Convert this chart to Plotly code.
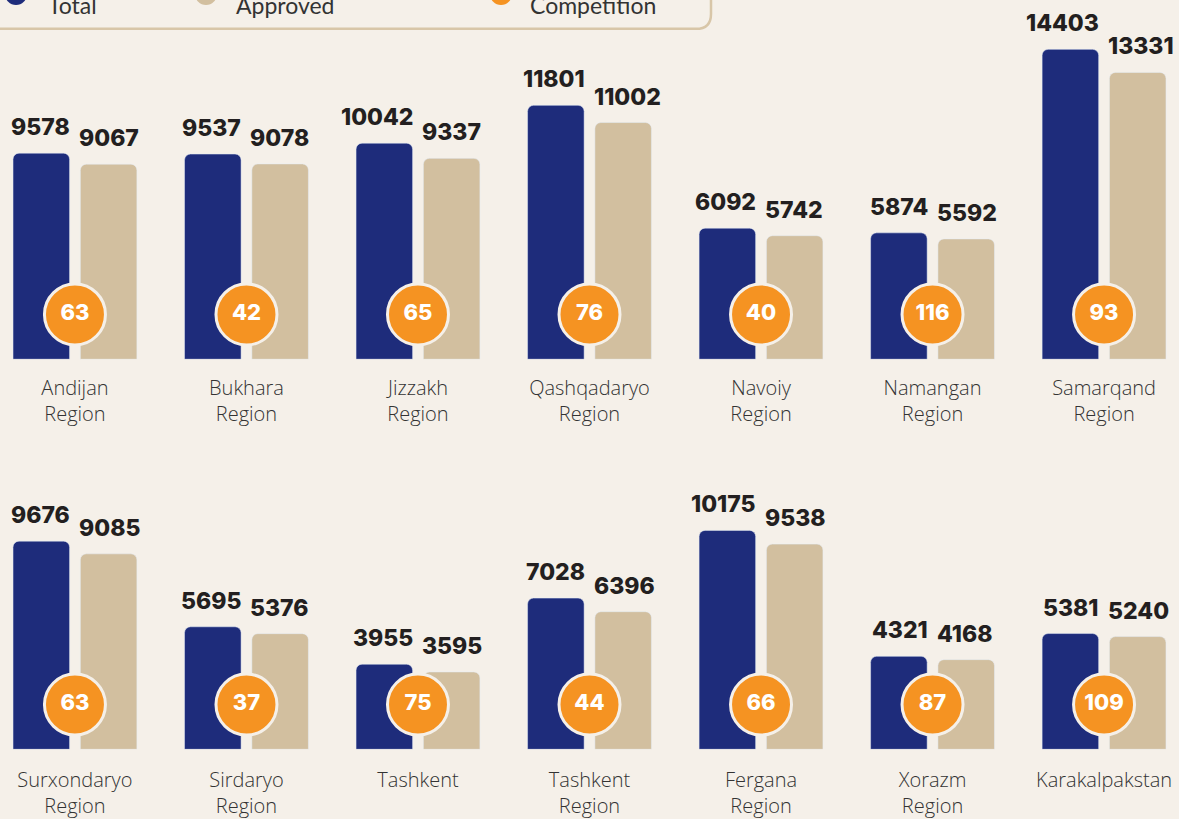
import plotly.graph_objects as go

# ---- data ----
top_regions = ["Andijan<br>Region", "Bukhara<br>Region", "Jizzakh<br>Region", "Qashqadaryo<br>Region",
               "Navoiy<br>Region", "Namangan<br>Region", "Samarqand<br>Region"]
top_total = [9578, 9537, 10042, 11801, 6092, 5874, 14403]
top_approved = [9067, 9078, 9337, 11002, 5742, 5592, 13331]
top_competition = [63, 42, 65, 76, 40, 116, 93]

bot_regions = ["Surxondaryo<br>Region", "Sirdaryo<br>Region", "Tashkent", "Tashkent<br>Region",
               "Fergana<br>Region", "Xorazm<br>Region", "Karakalpakstan"]
bot_total = [9676, 5695, 3955, 7028, 10175, 4321, 5381]
bot_approved = [9085, 5376, 3595, 6396, 9538, 4168, 5240]
bot_competition = [63, 37, 75, 44, 66, 87, 109]

legend_labels = ["Total", "Approved", "Competition"]

# ---- style ----
W, H = 1179, 819
BG = "#f5f0e9"
BLUE = "#1e2c7b"
BEIGE = "#d2bf9f"
ORANGE = "#f59322"
TXT = "#333333"
PX_PER_UNIT = 0.02162
TOP_BASE, BOT_BASE = 361, 753   # pixel baselines of the two rows
YMAX = TOP_BASE / PX_PER_UNIT
CIRCLE_Y = 45 / PX_PER_UNIT
NUM_FONT = "Inter"
LBL_FONT = "Open Sans"

fig = go.Figure()

rows = [
    (top_regions, top_total, top_approved, top_competition, "x", "y"),
    (bot_regions, bot_total, bot_approved, bot_competition, "x2", "y2"),
]

for regions, total, approved, comp, xa, ya in rows:
    fig.add_trace(go.Bar(x=regions, y=total, marker_color=BLUE, xaxis=xa, yaxis=ya,
                         offsetgroup="a", showlegend=False, hoverinfo="skip"))
    fig.add_trace(go.Bar(x=regions, y=approved, marker_color=BEIGE, xaxis=xa, yaxis=ya,
                         offsetgroup="b", showlegend=False, hoverinfo="skip"))
    fig.add_trace(go.Scatter(x=regions, y=[CIRCLE_Y] * len(regions), mode="markers+text",
                             text=[str(c) for c in comp], textposition="middle center",
                             textfont=dict(family=NUM_FONT, size=22, color="white", weight=800),
                             marker=dict(size=61, color=ORANGE, line=dict(color=BG, width=3)),
                             xaxis=xa, yaxis=ya, showlegend=False, hoverinfo="skip", cliponaxis=False))
    for r, t, a in zip(regions, total, approved):
        # total label right-aligned to the blue bar, approved label left-aligned to the beige bar
        for val, shift, anchor in ((t, -3, "right"), (a, 2, "left")):
            fig.add_annotation(x=r, y=val, xref=xa, yref=ya, text=str(val), showarrow=False,
                               xshift=shift, xanchor=anchor, yshift=26, yanchor="middle",
                               font=dict(family=NUM_FONT, size=23, color="#231f20", weight=800))

xcommon = dict(type="category", range=[-0.437, 6.437], showgrid=False, zeroline=False,
               showline=False, ticks="", tickfont=dict(family=LBL_FONT, size=20, color=TXT, weight=300),
               fixedrange=True)
ycommon = dict(range=[0, YMAX], visible=False, showgrid=False, zeroline=False, fixedrange=True)

fig.update_layout(
    width=W, height=H,
    margin=dict(l=0, r=0, t=0, b=0),
    paper_bgcolor=BG, plot_bgcolor=BG,
    barmode="group", bargap=0.215, bargroupgap=0.16, barcornerradius=6,
    xaxis=dict(domain=[0, 1], anchor="y", ticklabelstandoff=15, **xcommon),
    yaxis=dict(domain=[1 - TOP_BASE / H, 1], anchor="x", **ycommon),
    xaxis2=dict(domain=[0, 1], anchor="y2", ticklabelstandoff=17, **xcommon),
    yaxis2=dict(domain=[1 - BOT_BASE / H, 1 - (BOT_BASE - TOP_BASE) / H], anchor="x2", **ycommon),
)

# ---- legend box (cropped at top, as in the source image) ----
def px(xp):
    return xp / W

def py(yp):
    return 1 - yp / H

r = 15
x0, x1, y0, y1 = -20, 711, -80, 29
path = (f"M {px(x0)},{py(y0)} L {px(x1)},{py(y0)} L {px(x1)},{py(y1 - r)} "
        f"Q {px(x1)},{py(y1)} {px(x1 - r)},{py(y1)} L {px(x0)},{py(y1)} Z")
fig.add_shape(type="path", path=path, xref="paper", yref="paper",
              line=dict(color="#d8c6a8", width=2.5), fillcolor="rgba(0,0,0,0)")

legend_colors = [BLUE, BEIGE, ORANGE]
legend_cx = [16, 206, 501]
legend_tx = [46, 234, 528]
for lab, col, cx, tx in zip(legend_labels, legend_colors, legend_cx, legend_tx):
    fig.add_shape(type="circle", xref="paper", yref="paper",
                  x0=px(cx - 11), x1=px(cx + 11), y0=py(5), y1=py(-17),
                  fillcolor=col, line=dict(width=0))
    fig.add_annotation(x=px(tx), y=py(21), xref="paper", yref="paper", text=lab,
                       showarrow=False, xanchor="left", yanchor="bottom",
                       font=dict(family="Lato", size=23, color=TXT))

fig.write_html("out.html")
